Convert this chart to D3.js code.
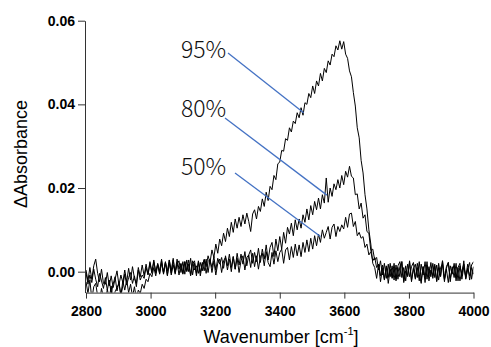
<!DOCTYPE html>
<html>
<head>
<meta charset="utf-8">
<script src="https://cdn.jsdelivr.net/npm/d3@7"></script>
<style>
  body { margin: 0; background: #fff; }
  svg { display: block; }
</style>
</head>
<body>
<svg id="chart"></svg>
<script>
// wavenumber grid, cm^-1 (one reading every 6 cm^-1)
const wavenumbers = d3.range(2800, 4001, 6);

// difference absorbance, in units of 1e-4
const abs95 = [
  -2, -30, -8, -26, 6, -18, -36, -4, -22, -40,
  -14, -44, -20, -52, -30, -12, -46, -24, -58, -34,
  -6, -32, -14, -2, -28, -10, -36, 4, -20, -8,
  -16, 10, -8, 20, -4, 24, 0, 18, -6, 26,
  -4, 22, 2, 28, -8, 16, -2, 30, 6, 20,
  -6, 24, 0, 18, -10, 26, 4, 14, -4, 22,
  2, 30, 12, 38, 22, 52, 34, 66, 44, 78,
  62, 92, 72, 104, 84, 118, 94, 126, 104, 130,
  108, 136, 114, 140, 120, 96, 138, 148, 126, 156,
  144, 174, 156, 190, 170, 204, 196, 230, 220, 258,
  262, 290, 288, 318, 314, 344, 334, 360, 354, 380,
  368, 392, 374, 404, 400, 426, 416, 444, 426, 456,
  444, 474, 456, 486, 476, 504, 494, 520, 514, 540,
  530, 552, 532, 550, 520, 510, 480, 466, 428, 396,
  344, 320, 266, 236, 184, 150, 100, 66, 20, 10,
  -16, 18, -24, 8, -20, 14, -28, 6, -14, 20,
  -22, 10, -12, 24, -26, 2, -10, 26, -20, 8,
  -18, 20, -6, -28, 12, -14, 24, -22, 4, -10,
  18, -24, 10, -12, 26, -18, 6, -26, 14, -6,
  20, -14, 10, -22, 2, 18, -18, 8, -10, 16,
  24
];

const abs80 = [
  4, -22, 10, -18, 14, 30, -4, -24, 6, -28,
  -30, -2, -34, -10, -38, -18, 2, -32, -8, -26,
  4, -24, 8, -20, 12, -16, -28, 10, -12, 16,
  -10, 18, -6, 24, 0, 28, -4, 20, 2, 30,
  -6, 22, -8, 28, 2, 32, -6, 18, 26, -2,
  24, -6, 28, 0, 32, -8, 20, -10, 26, -2,
  22, 2, 30, -2, 28, 10, 36, 4, 32, 18,
  34, 8, 38, 14, 42, 10, 36, 6, 44, 16,
  42, 18, 48, 14, 40, 52, 20, 46, 24, 56,
  22, 54, 30, 64, 28, 58, 70, 36, 78, 50,
  84, 54, 94, 68, 106, 90, 116, 86, 124, 100,
  126, 104, 136, 118, 150, 124, 158, 136, 168, 148,
  176, 150, 184, 164, 224, 166, 200, 180, 210, 196,
  220, 200, 230, 208, 240, 226, 252, 228, 224, 184,
  186, 150, 164, 128, 136, 96, 92, 50, 54, 28,
  34, 4, 26, -8, 20, -16, 18, -12, 14, -20,
  16, -18, 12, 24, -22, 14, -12, 22, -24, 8,
  18, -14, 24, -20, 12, -26, 16, -10, 22, -16,
  14, -22, 20, -10, 26, -18, 8, 22, -24, 12,
  -14, 20, -22, 14, -10, 26, -16, 6, 22, -18,
  12
];

const abs50 = [
  -24, -52, -20, -66, -36, -28, -58, -72, -40, -62,
  -74, -42, -64, -34, -70, -48, -38, -28, -56, -22,
  -44, -20, -50, -30, -60, -36, -64, -44, -52, -30,
  -40, -18, -24, -4, -12, 10, -10, 16, -4, 20,
  -2, 24, -10, 20, -4, 28, -2, 22, -8, 18,
  -4, 24, 2, 28, -8, 18, 26, -4, 22, -10,
  18, 28, -4, 24, 30, -2, 26, -8, 20, 30,
  -2, 26, 34, 4, 30, 0, 36, 6, 32, -2,
  26, 38, 4, 34, 40, 10, 44, 12, 38, 6,
  36, 44, 14, 48, 22, 12, 46, 18, 50, 24,
  46, 54, 20, 52, 58, 28, 60, 34, 66, 38,
  64, 36, 70, 46, 76, 48, 80, 54, 86, 62,
  90, 70, 100, 80, 94, 108, 78, 106, 114, 84,
  108, 96, 112, 102, 130, 106, 138, 140, 108, 120,
  86, 94, 80, 84, 58, 66, 40, 48, 26, 34,
  10, 18, -10, 16, -18, 12, -14, 20, -16, 8,
  -18, 14, 24, -14, 10, -22, 18, -12, 12, 22,
  -16, 10, -22, 18, -8, 24, -18, 12, -12, 20,
  -14, 16, -20, 10, 18, -24, 12, 22, -16, 6,
  14, -22, 10, 20, -18, 12, -12, 18, -20, 10,
  -6
];

// curve labels and where each pointer line lands on its curve
const seriesLabels = ['95%', '80%', '50%'];
const pointerWavenumbers = [3474, 3546, 3526];
const pointerValues = [0.0380, 0.0183, 0.0084];

const xTicks = [2800, 3000, 3200, 3400, 3600, 3800, 4000];
const yTicks = [0.00, 0.02, 0.04, 0.06];

const UNIT = 1e-4;

const svgWidth = 491, svgHeight = 347;
const svg = d3.select('#chart')
  .attr('width', svgWidth)
  .attr('height', svgHeight);

const x = d3.scaleLinear().domain([2800, 4000]).range([86, 473.5]);
const y = d3.scaleLinear().domain([-0.005, 0.06]).range([292.6, 20.7]);

const tickFont = '"Liberation Sans", Arial, Helvetica, sans-serif';

// clip the noisy traces to the plot box
svg.append('clipPath').attr('id', 'plotClip')
  .append('rect')
  .attr('x', x(2800)).attr('y', y(0.06))
  .attr('width', x(4000) - x(2800))
  .attr('height', y(-0.005) - y(0.06));

const line = d3.line()
  .x((d, i) => x(wavenumbers[i]))
  .y(d => y(d * UNIT));

const traces = svg.append('g').attr('clip-path', 'url(#plotClip)');
[abs50, abs80, abs95].forEach(s => {
  traces.append('path')
    .datum(s)
    .attr('fill', 'none')
    .attr('stroke', '#000')
    .attr('stroke-width', 1)
    .attr('stroke-linejoin', 'round')
    .attr('d', line);
});

// axes
const xAxis = svg.append('g')
  .attr('transform', 'translate(0,' + y(-0.005) + ')')
  .call(d3.axisBottom(x).tickValues(xTicks).tickSize(6).tickSizeOuter(0).tickPadding(7)
    .tickFormat(d3.format('d')));

const yAxis = svg.append('g')
  .attr('transform', 'translate(' + (x(2800) - 1) + ',0)')
  .call(d3.axisLeft(y).tickValues(yTicks).tickSize(7).tickSizeOuter(0).tickPadding(3)
    .tickFormat(d3.format('.2f')));

[xAxis, yAxis].forEach(a => {
  a.selectAll('path, line').attr('stroke', '#333');
  a.selectAll('text')
    .attr('fill', '#000')
    .style('font-family', tickFont)
    .style('font-size', '14px')
    .style('font-weight', 'bold');
});

// axis titles
const xTitle = svg.append('text')
  .attr('x', 281).attr('y', 343)
  .attr('text-anchor', 'middle')
  .style('font-family', tickFont)
  .style('font-size', '18px');
xTitle.append('tspan').text('Wavenumber [cm');
xTitle.append('tspan').attr('dy', -8).style('font-size', '11px').text('-1');
xTitle.append('tspan').attr('dy', 8).text(']');

svg.append('text')
  .attr('transform', 'translate(27,154) rotate(-90)')
  .attr('text-anchor', 'middle')
  .style('font-family', tickFont)
  .style('font-size', '18px')
  .text('\u0394Absorbance');

// curve labels with blue pointer lines
const labelPos = [
  { tx: 181, ty: 58, lx: 228, ly: 53 },
  { tx: 181, ty: 117, lx: 225, ly: 118 },
  { tx: 181, ty: 175, lx: 235, ly: 173 }
];

seriesLabels.forEach((label, i) => {
  const p = labelPos[i];
  svg.append('line')
    .attr('x1', p.lx).attr('y1', p.ly)
    .attr('x2', x(pointerWavenumbers[i]))
    .attr('y2', y(pointerValues[i]))
    .attr('stroke', '#4472c4')
    .attr('stroke-width', 1.3);
  svg.append('text')
    .attr('x', p.tx).attr('y', p.ty)
    .style('font-family', '"Noto Sans CJK JP", "Noto Sans", sans-serif')
    .style('font-weight', 300)
    .style('font-size', '23px')
    .attr('fill', '#111')
    .text(label);
});
</script>
</body>
</html>
